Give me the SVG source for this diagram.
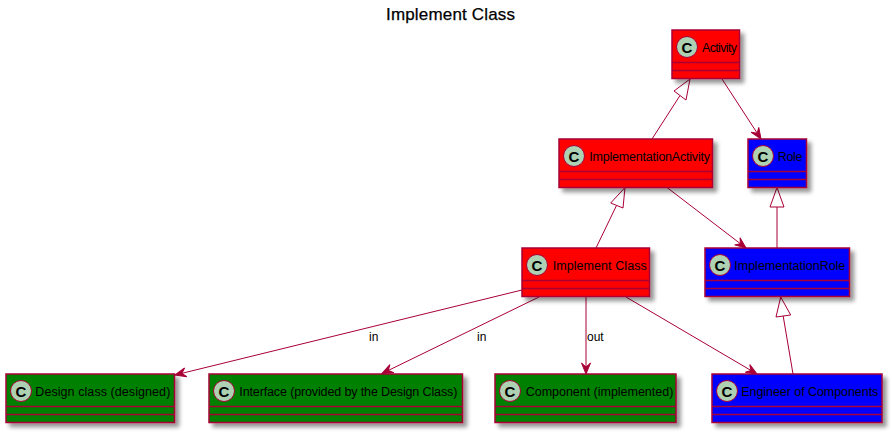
<svg xmlns="http://www.w3.org/2000/svg" width="892" height="432" viewBox="0 0 892 432">
<style>
text{font-family:"Liberation Sans",Arial,sans-serif;fill:#000}
.t{font-size:12.500px}
.l{font-size:12px}
.title{font-size:17px;stroke:#000;stroke-width:.25}
.c{font-size:15px;font-weight:bold;text-anchor:middle}
.b{stroke:#A80036;stroke-width:1.5}
.red{fill:#FF0000}.blue{fill:#0000FF}.green{fill:#008000}
.sp{stroke:#A80036;stroke-width:1;fill:#ADD1B2}
.e{stroke:#A80036;stroke-width:1;fill:none}
.o{stroke:#A80036;stroke-width:1;fill:#fff}
</style>
<defs>
<filter id="s" x="-20%" y="-20%" width="140%" height="140%"><feGaussianBlur in="SourceAlpha" stdDeviation="2"/><feOffset dx="4" dy="4"/><feComponentTransfer><feFuncA type="linear" slope="0.42"/></feComponentTransfer><feMerge><feMergeNode/><feMergeNode in="SourceGraphic"/></feMerge></filter>
<marker id="a" markerUnits="userSpaceOnUse" markerWidth="14" markerHeight="12" refX="12" refY="6" orient="auto"><path d="M12,6L1,1.5L5,6L1,10.500Z" fill="#A80036" stroke="#A80036"/></marker>
</defs>
<text class="title" x="386" y="19.500" textLength="129" lengthAdjust="spacing">Implement Class</text>
<g id="connectors">
<path class="e" d="M652,139L680,95.500"/><path class="o" d="M690,79L674,91L686,100Z"/>
<path class="e" d="M722,79L761,139" marker-end="url(#a)"/>
<path class="e" d="M596,248L616.500,205.500"/><path class="o" d="M625,187.500L610.700,203L623,208Z"/>
<path class="e" d="M667,187.500L746,248" marker-end="url(#a)"/>
<path class="e" d="M777,248L777,207"/><path class="o" d="M777,187.500L770,207L784,207Z"/>
<path class="e" d="M793,374L783,315"/><path class="o" d="M780.700,297L776,317L790.700,315Z"/>
<path class="e" d="M522,290L175,375" marker-end="url(#a)"/>
<path class="e" d="M539,297L382,373.500" marker-end="url(#a)"/>
<path class="e" d="M586,297L586,374" marker-end="url(#a)"/>
<path class="e" d="M626,297L757,374" marker-end="url(#a)"/>
<text class="l" x="369" y="341">in</text>
<text class="l" x="477" y="341">in</text>
<text class="l" x="587" y="341">out</text>
</g>
<g id="activity"><rect class="b red" x="672" y="30" width="67.500" height="48.500" filter="url(#s)"/><path class="b" d="M672,62.500H739.500M672,70.500H739.500"/><circle class="sp" cx="687" cy="47" r="10.500"/><text class="c" x="687" y="52.500">C</text><text class="t" x="702" y="52" textLength="35">Activity</text></g>
<g id="implementation-activity"><rect class="b red" x="559" y="139" width="153.500" height="48.500" filter="url(#s)"/><path class="b" d="M559,171.500H712.500M559,179.500H712.500"/><circle class="sp" cx="574" cy="156" r="10.500"/><text class="c" x="574" y="161.500">C</text><text class="t" x="589.300" y="161" textLength="120.700">ImplementationActivity</text></g>
<g id="role"><rect class="b blue" x="748" y="139" width="58.500" height="48.500" filter="url(#s)"/><path class="b" d="M748,171.500H806.500M748,179.500H806.500"/><circle class="sp" cx="763" cy="156" r="10.500"/><text class="c" x="763" y="161.500">C</text><text class="t" x="777.700" y="161" textLength="24.700">Role</text></g>
<g id="implement-class"><rect class="b red" x="522" y="248" width="127.500" height="48.500" filter="url(#s)"/><path class="b" d="M522,280.500H649.500M522,288.500H649.500"/><circle class="sp" cx="537" cy="265" r="10.500"/><text class="c" x="537" y="270.500">C</text><text class="t" x="552.700" y="270" textLength="94">Implement Class</text></g>
<g id="implementation-role"><rect class="b blue" x="705" y="248" width="144.500" height="48.500" filter="url(#s)"/><path class="b" d="M705,280.500H849.500M705,288.500H849.500"/><circle class="sp" cx="720" cy="265" r="10.500"/><text class="c" x="720" y="270.500">C</text><text class="t" x="734.300" y="270" textLength="111">ImplementationRole</text></g>
<g id="design-class"><rect class="b green" x="6" y="374" width="168.500" height="48.500" filter="url(#s)"/><path class="b" d="M6,406.500H174.500M6,414.500H174.500"/><circle class="sp" cx="21" cy="391" r="10.500"/><text class="c" x="21" y="396.500">C</text><text class="t" x="35.300" y="396" textLength="135">Design class (designed)</text></g>
<g id="interface"><rect class="b green" x="209" y="374" width="253.500" height="48.500" filter="url(#s)"/><path class="b" d="M209,406.500H462.500M209,414.500H462.500"/><circle class="sp" cx="224" cy="391" r="10.500"/><text class="c" x="224" y="396.500">C</text><text class="t" x="239.300" y="396" textLength="218">Interface (provided by the Design Class)</text></g>
<g id="component"><rect class="b green" x="495" y="374" width="181" height="48.500" filter="url(#s)"/><path class="b" d="M495,406.500H676M495,414.500H676"/><circle class="sp" cx="510" cy="391" r="10.500"/><text class="c" x="510" y="396.500">C</text><text class="t" x="525.700" y="396" textLength="147.600">Component (implemented)</text></g>
<g id="engineer"><rect class="b blue" x="712" y="374" width="170" height="48.500" filter="url(#s)"/><path class="b" d="M712,406.500H882M712,414.500H882"/><circle class="sp" cx="727" cy="391" r="10.500"/><text class="c" x="727" y="396.500">C</text><text class="t" x="741.300" y="396" textLength="137">Engineer of Components</text></g>
</svg>
